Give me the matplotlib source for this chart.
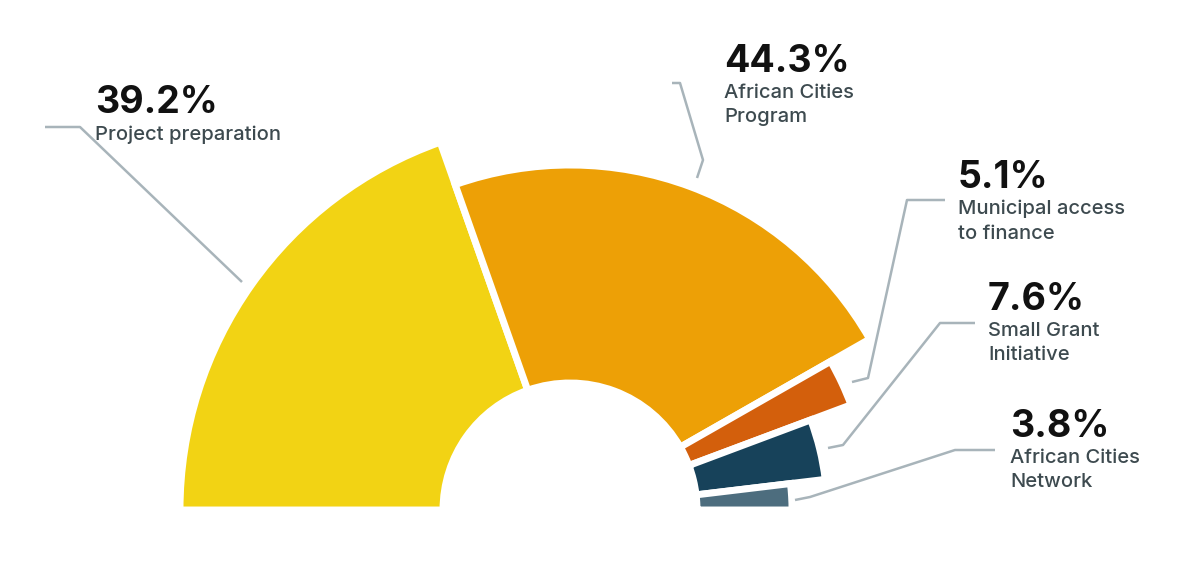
import matplotlib.pyplot as plt
from matplotlib.patches import Wedge

plt.rcParams['font.family'] = ['Inter', 'DejaVu Sans']

# donnees
labels = ["Project preparation", "African Cities\nProgram", "Municipal access\nto finance",
          "Small Grant\nInitiative", "African Cities\nNetwork"]
shares = [39.2, 44.3, 5.1, 7.6, 3.8]
radius = [390, 345, 300, 257, 222]
colors = ['#f2d314', '#eda006', '#d35f0c', '#17425a', '#4d6d7e']

H = 568
cx, cy = 570, H - 510
r_in = 127

# lignes de rappel (pixels, y vers le bas) et position du texte
leaders = [
    [(242, 282), (80, 127), (45, 127)],
    [(697, 178), (703, 160), (680, 83), (672, 83)],
    [(852, 382), (868, 378), (907, 200), (945, 200)],
    [(828, 448), (843, 445), (940, 323), (975, 323)],
    [(795, 500), (810, 497), (955, 450), (995, 450)],
]
text_pos = [(95, 103), (724, 62), (958, 178), (988, 300), (1010, 427)]

fig = plt.figure(figsize=(12, 5.68), dpi=100)
ax = fig.add_axes([0, 0, 1, 1])
ax.set_xlim(0, 1200)
ax.set_ylim(0, H)
ax.set_aspect('equal')
ax.axis('off')

total = sum(shares)
start = 180.0
for s, r, c in zip(shares, radius, colors):
    span = 180.0 * s / total
    w = Wedge((cx, cy), r, start - span, start, width=r - r_in,
              facecolor=c, edgecolor='white', linewidth=5)
    ax.add_patch(w)
    start -= span

for pts, (tx, ty), s, lab in zip(leaders, text_pos, shares, labels):
    xs = [p[0] for p in pts]
    ys = [H - p[1] for p in pts]
    ax.plot(xs, ys, color='#a8b4ba', lw=1.8, solid_capstyle='butt')
    ax.text(tx, H - ty, f"{s}%", fontsize=27, fontweight='bold', color='#111111',
            va='center', ha='left')
    ax.text(tx, H - ty - 22, lab, fontsize=14.5, fontweight='medium', color='#3d4a4f',
            va='top', ha='left', linespacing=1.45)

fig.savefig('out.png', dpi=100)
